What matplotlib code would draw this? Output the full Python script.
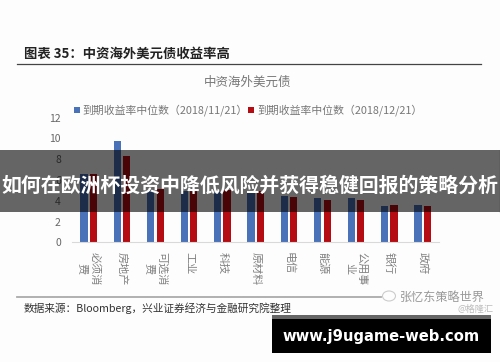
import matplotlib
matplotlib.use("Agg")
import matplotlib.pyplot as plt
from matplotlib.patches import Rectangle, Ellipse
from matplotlib.lines import Line2D
import numpy as np

plt.rcParams['font.family'] = ['Noto Sans CJK SC', 'DejaVu Sans']

categories = ["必须消\n费", "房地产", "可选消\n费", "工业", "科技", "原材料", "电信", "能源", "公用事\n业", "银行", "政府"]
nov = [6.6, 9.75, 5.0, 4.9, 4.8, 4.7, 4.5, 4.3, 4.25, 3.45, 3.6]
dec = [6.6, 8.3, 5.1, 5.0, 5.0, 4.9, 4.35, 4.1, 4.05, 3.6, 3.5]
yticks = [0, 2, 4, 6, 8, 10, 12]
series_names = ["到期收益率中位数（2018/11/21）", "到期收益率中位数（2018/12/21）"]

W, H = 500, 362
fig = plt.figure(figsize=(W/100, H/100), dpi=100, facecolor="#fdfdfd")

def fx(px): return px / W
def fy(py): return 1 - py / H

ax = fig.add_axes([fx(72), fy(242.3), fx(367.4), (242.3-117.5)/H])
ax.patch.set_alpha(0)
x = np.arange(len(categories))
b1 = ax.bar(x - 0.14, nov, 0.22, color="#4a72b8", label=series_names[0])
b2 = ax.bar(x + 0.14, dec, 0.22, color="#b40c12", label=series_names[1])
ax.set_xlim(-0.5, len(categories) - 0.5)
ax.set_ylim(0, 12)
ax.set_yticks(yticks)
ax.set_xticks(x)
ax.set_xticklabels(categories, rotation=-90, fontsize=8, color="#808080", linespacing=1.25,
                   va="top", ha="center")
ax.tick_params(axis="both", length=0)
ax.tick_params(axis="x", pad=7)
ax.tick_params(axis="y", labelsize=7.5, labelcolor="#666666", pad=8)
for s in ["top", "right", "left"]:
    ax.spines[s].set_visible(False)
ax.spines["bottom"].set_color("#d9d9d9")

fig.legend(handles=[b1, b2], loc="center left", bbox_to_anchor=(fx(74), fy(110.5)), ncols=2, frameon=False,
           fontsize=7.8, labelcolor="#777777", handlelength=0.55, handleheight=0.55, handletextpad=0.25,
           columnspacing=0.05, borderpad=0, borderaxespad=0)

fig.text(fx(248), fy(82.5), "中资海外美元债", fontsize=9, color="#777777", ha="center", va="center")
fig.text(fx(24), fy(54), "图表 35：中资海外美元债收益率高", fontsize=9.6, fontweight="bold", color="#222222", va="center")
fig.add_artist(Line2D([fx(17), fx(481)], [fy(64.3)]*2, color="#444444", lw=0.9))
fig.add_artist(Line2D([fx(17), fx(381)], [fy(296.7)]*2, color="#aaaaaa", lw=1.3))
fig.text(fx(24), fy(308), "数据来源：Bloomberg，兴业证券经济与金融研究院整理", fontsize=7.7, color="#333333", va="center")
fig.text(fx(400), fy(297), "张忆东策略世界", fontsize=8.7, color="#999999", va="center")
fig.text(fx(458), fy(309.5), "@格隆汇", fontsize=6.6, color="#bbbbbb", va="center")
fig.add_artist(Ellipse((fx(389), fy(296)), 13/W, 10/H, transform=fig.transFigure, facecolor="none",
                       edgecolor="#cccccc", lw=0.8))

band = Rectangle((0, fy(211.7)), 1, 61.7/H, transform=fig.transFigure, facecolor="black", alpha=0.6, zorder=5)
fig.add_artist(band)
fig.add_artist(Line2D([fx(499.5)]*2, [fy(150), fy(211.7)], color="black", lw=0.8, zorder=6))
fig.text(0.5, fy(185), "如何在欧洲杯投资中降低风险并获得稳健回报的策略分析", fontsize=14.35, fontweight="bold",
         color="white", ha="center", va="center", zorder=7)

fig.add_artist(Rectangle((fx(272), fy(352.7)), 219/W, 37.7/H, transform=fig.transFigure, facecolor="black", zorder=5))
fig.add_artist(Rectangle((fx(272), fy(319)), 219/W, 4/H, transform=fig.transFigure, facecolor="#666666", zorder=6))
fig.text(fx(381), fy(337), "www.j9ugame-web.com", fontsize=10.6, fontweight="bold", color="white",
         family="DejaVu Sans", ha="center", va="center", zorder=7)

fig.savefig("out.png", dpi=100, facecolor=fig.get_facecolor())
